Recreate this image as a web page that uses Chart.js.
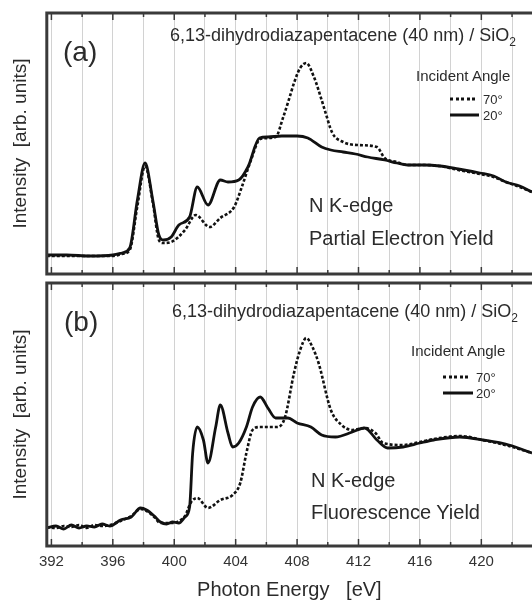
<!DOCTYPE html>
<html lang="en">
<head>
<meta charset="UTF-8">
<title>N K-edge NEXAFS</title>
<script src="https://cdn.jsdelivr.net/npm/chart.js"></script>
<style>
    body {
        margin: 0;
        background: #fff;
        font-family: "Liberation Sans", Arial, sans-serif;
        color: #2b2b2b;
    }
    .page {
        position: relative;
        width: 532px;
        height: 601px;
        overflow: hidden;
    }
    canvas {
        position: absolute;
        left: 0;
    }
    #peyChart { top: 0; }
    #flyChart { top: 280px; }
    .note {
        position: absolute;
        white-space: nowrap;
        line-height: 1;
        transform: translateY(-50%);
        z-index: 2;
    }
    .ttl { font-size: 18px; }
    .tag { font-size: 28px; }
    .big { font-size: 20px; }
    .head { font-size: 15px; }
    .deg { font-size: 13px; }
    .line {
        position: absolute;
        height: 3px;
        transform: translateY(-50%);
        z-index: 2;
    }
    .solid { background: #111; }
    .dash { background: repeating-linear-gradient(90deg, #111 0 3px, transparent 3px 5.5px); }
</style>
</head>
<body>
<div class="page">
    <canvas id="peyChart" width="532" height="290"></canvas>
    <canvas id="flyChart" width="532" height="321"></canvas>

    <!-- panel (a) -->
    <div class="note ttl" style="left:170px; top:37px;">6,13-dihydrodiazapentacene (40 nm) / SiO<sub style="font-size:12px">2</sub></div>
    <div class="note tag" style="left:63px; top:52px;">(a)</div>
    <div class="note head" style="left:416px; top:75px;">Incident Angle</div>
    <div class="line dash" style="left:450px; width:27px; top:99px;"></div>
    <div class="note deg" style="left:483px; top:99px;">70°</div>
    <div class="line solid" style="left:450px; width:29px; top:115px;"></div>
    <div class="note deg" style="left:483px; top:115px;">20°</div>
    <div class="note big" style="left:309px; top:205px;">N K-edge</div>
    <div class="note big" style="left:309px; top:238px;">Partial Electron Yield</div>

    <!-- panel (b) -->
    <div class="note ttl" style="left:172px; top:313px;">6,13-dihydrodiazapentacene (40 nm) / SiO<sub style="font-size:12px">2</sub></div>
    <div class="note tag" style="left:64px; top:322px;">(b)</div>
    <div class="note head" style="left:411px; top:350px;">Incident Angle</div>
    <div class="line dash" style="left:443px; width:28px; top:377px;"></div>
    <div class="note deg" style="left:476px; top:377px;">70°</div>
    <div class="line solid" style="left:443px; width:30px; top:393px;"></div>
    <div class="note deg" style="left:476px; top:393px;">20°</div>
    <div class="note big" style="left:311px; top:480px;">N K-edge</div>
    <div class="note big" style="left:311px; top:512px;">Fluorescence Yield</div>
</div>

<script>
// photon energy range shown (eV)
const xMin = 391.7;
const xMax = 423.3;

// (a) partial electron yield, 20 deg
const peyEnergy20 = [391.7, 393, 394.5, 396, 396.6, 397.1, 397.6, 398.1, 398.6, 399.0, 399.3, 399.8, 400.3, 401.0, 401.5, 402.2,
    403.0, 403.5, 404.2, 404.8, 405.55, 406.1, 407.0, 408.0, 408.7, 409.6, 410.2, 411.0, 411.8, 412.6, 413.7, 414.5, 415.2,
    416.3, 417.3, 418.5, 419.9, 420.8, 421.6, 422.5, 423.3];
const peyInt20 = [21, 21, 20, 21, 23, 28, 76, 113, 76, 41, 36, 39, 51, 59, 89, 71,
    96, 94, 96, 109, 138, 139, 140, 140, 138, 129, 126, 124, 122, 119, 116, 113, 111,
    111, 110, 107, 103, 100, 94, 90, 84];

// (a) partial electron yield, 70 deg
const peyEnergy70 = [391.7, 393, 394.5, 396, 396.6, 397.1, 397.6, 398.1, 398.6, 399.0, 399.25, 399.8, 400.7, 401.4, 402.3,
    403.0, 403.9, 404.4, 405.0, 405.6, 406.6, 407.1, 407.5, 407.8, 408.2, 408.6, 409.1, 409.6, 409.8, 410.3, 411.0, 411.9,
    413.2, 413.7, 414.5, 415.2, 416.3, 417.3, 418.5, 419.9, 420.8, 421.6, 422.5, 423.3];
const peyInt70 = [20, 20, 20, 20, 22, 26, 70, 110, 74, 36, 33, 34, 46, 61, 49,
    58, 69, 89, 116, 137, 139, 159, 178, 193, 208, 213, 199, 176, 166, 143, 134, 131,
    129, 118, 114, 111, 111, 110, 106, 102, 99, 94, 89, 84];

// (b) fluorescence yield, 20 deg
const flyEnergy20 = [391.7, 392.3, 392.8, 393.3, 393.8, 394.3, 394.8, 395.3, 395.8, 396.5, 397.2, 397.8, 398.2, 398.7, 399.1,
    399.5, 399.9, 400.3, 400.7, 401.0, 401.2, 401.5, 401.9, 402.2, 402.7, 403.0, 403.5, 403.8, 404.2, 404.7, 405.1, 405.6,
    406.1, 406.6, 407.4, 408.0, 408.9, 409.6, 410.5, 411.6, 412.4, 413.2, 413.9, 414.9, 416.0, 416.9, 418.6, 420.1, 421.8, 423.3];
const flyInt20 = [19, 21, 18, 22, 19, 21, 20, 23, 21, 27, 30, 39, 37, 31, 25,
    23, 25, 24, 30, 40, 94, 120, 107, 84, 120, 142, 114, 100, 104, 120, 140, 150,
    139, 129, 129, 124, 120, 112, 110, 115, 119, 107, 99, 100, 104, 107, 110, 107, 102, 94];

// (b) fluorescence yield, 70 deg
const flyEnergy70 = [391.7, 392.3, 392.8, 393.3, 393.8, 394.3, 394.8, 395.3, 395.8, 396.5, 397.2, 397.8, 398.2, 398.7, 399.1,
    399.5, 399.9, 400.3, 400.7, 401.1, 401.5, 402.2, 403.0, 403.8, 404.3, 404.7, 405.1, 405.6, 406.7, 407.2, 407.8, 408.2,
    408.6, 409.0, 409.4, 410.2, 410.9, 411.6, 412.4, 413.1, 413.6, 414.9, 416.0, 416.9, 418.6, 420.1, 421.8, 423.3];
const flyInt70 = [20, 19, 21, 20, 22, 19, 22, 21, 22, 26, 31, 38, 36, 30, 24,
    24, 24, 26, 31, 45, 49, 39, 47, 52, 64, 94, 117, 120, 120, 129, 174, 197,
    209, 200, 184, 137, 122, 117, 119, 114, 104, 102, 105, 108, 111, 107, 101, 94];

// frame round the plot area with inward ticks at top and bottom
const framePlugin = {
    id: 'frame',
    afterDatasetsDraw(chart) {
        const ctx = chart.ctx;
        const a = chart.chartArea;
        const x = chart.scales.x;
        ctx.save();
        ctx.strokeStyle = '#3a3a3a';
        ctx.lineWidth = 1.5;
        x.ticks.forEach(t => {
            const px = x.getPixelForValue(t.value);
            const len = t.value % 4 === 0 ? 7 : 4;
            ctx.beginPath();
            ctx.moveTo(px, a.top);
            ctx.lineTo(px, a.top + len);
            ctx.moveTo(px, a.bottom);
            ctx.lineTo(px, a.bottom - len);
            ctx.stroke();
        });
        ctx.lineWidth = 3;
        ctx.strokeRect(a.left, a.top, a.right - a.left + 6, a.bottom - a.top);
        ctx.restore();
    }
};

function points(xs, ys) {
    return xs.map((v, i) => ({x: v, y: ys[i]}));
}

function makeChart(id, e20, i20, e70, i70, yMin, yMax, bottomAxis, padding) {
    const ctx = document.getElementById(id).getContext('2d');
    return new Chart(ctx, {
        type: 'line',
        data: {
            datasets: [{
                label: '20°',
                data: points(e20, i20),
                borderColor: '#111',
                borderWidth: 2.8,
                pointRadius: 0,
                cubicInterpolationMode: 'monotone'
            }, {
                label: '70°',
                data: points(e70, i70),
                borderColor: '#111',
                borderWidth: 2.6,
                borderDash: [3, 2],
                pointRadius: 0,
                cubicInterpolationMode: 'monotone'
            }]
        },
        options: {
            responsive: false,
            animation: false,
            devicePixelRatio: 1,
            layout: { padding: padding },
            plugins: {
                legend: { display: false },
                tooltip: { enabled: false }
            },
            scales: {
                x: {
                    type: 'linear',
                    min: xMin,
                    max: xMax,
                    // every 2 eV, labels every 4 eV
                    afterBuildTicks: s => {
                        const list = [];
                        for (let v = 392; v <= 422; v += 2) list.push({value: v});
                        s.ticks = list;
                    },
                    ticks: {
                        display: bottomAxis,
                        autoSkip: false,
                        maxRotation: 0,
                        minRotation: 0,
                        padding: 7,
                        color: '#333',
                        font: { family: '"Liberation Sans", Arial, sans-serif', size: 15 },
                        callback: v => (v % 4 === 0 ? String(v) : '')
                    },
                    grid: { color: '#d2d2d2', lineWidth: 1, drawTicks: false, tickLength: 0 },
                    border: { display: false },
                    title: {
                        display: bottomAxis,
                        text: 'Photon Energy   [eV]',
                        color: '#2b2b2b',
                        font: { family: '"Liberation Sans", Arial, sans-serif', size: 20, lineHeight: 1 },
                        padding: { top: 2, bottom: 0 }
                    }
                },
                y: {
                    min: yMin,
                    max: yMax,
                    ticks: { display: false },
                    grid: { display: false, drawTicks: false },
                    border: { display: false },
                    title: {
                        display: true,
                        text: 'Intensity  [arb. units]',
                        color: '#2b2b2b',
                        font: { family: '"Liberation Sans", Arial, sans-serif', size: 19 },
                        padding: { top: 5, bottom: 15 }
                    }
                }
            }
        },
        plugins: [framePlugin]
    });
}

makeChart('peyChart', peyEnergy20, peyInt20, peyEnergy70, peyInt70, 2, 263, false,
    { left: 4, top: 13, right: 0, bottom: 16 });
makeChart('flyChart', flyEnergy20, flyInt20, flyEnergy70, flyInt70, 1, 264, true,
    { left: 4, top: 3, right: 0, bottom: 1 });
</script>
</body>
</html>
